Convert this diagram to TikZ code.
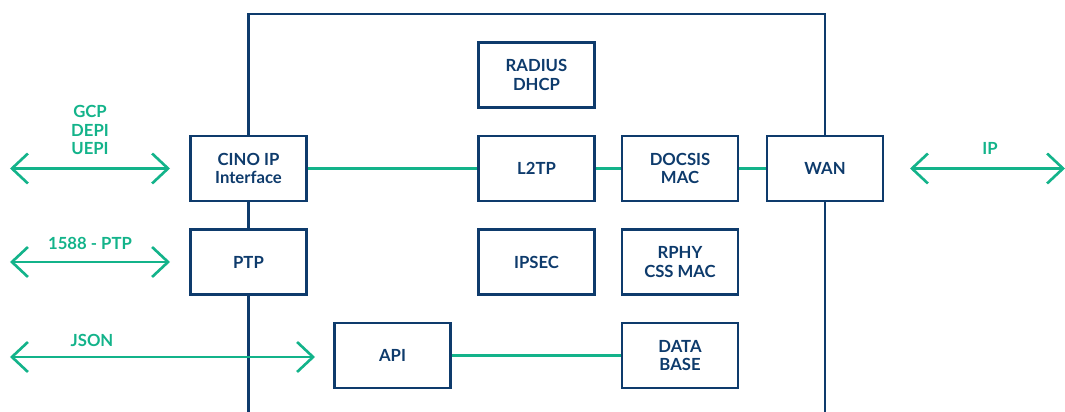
\documentclass[tikz,border=0pt]{standalone}
\usepackage{fontspec}
\setmainfont{Lato}
\usepackage{tikz}
\usetikzlibrary{arrows.meta}

\definecolor{navy}{HTML}{0E3B6C}
\definecolor{cgreen}{HTML}{13B38A}

\begin{document}
\begin{tikzpicture}[box/.style={draw=navy, line width=1.6pt, fill=white, minimum width=2.32cm, minimum height=1.3cm, align=center, text=navy, font=\bfseries\fontsize{9.5}{10.5}\selectfont},
			link/.style={cgreen, line width=1.5pt},
			io/.style={link, {Straight Barb[length=3.2mm,width=6mm]}-{Straight Barb[length=3.2mm,width=6mm]}},
			tag/.style={text=cgreen, align=center, font=\bfseries\fontsize{9.5}{10.5}\selectfont}]
			\useasboundingbox (0,0) rectangle (21.3,8.24);
			
			% frame of the core
			\draw[navy, line width=1.6pt] (4.97,0) -- (4.97,7.96) -- (16.5,7.96) -- (16.5,0);
			
			\begin{scope}[every node/.style={box}]
				\node (radius) at (10.73,6.74) {RADIUS\\DHCP};
				\node (cino) at (4.97,4.87) {CINO IP\\Interface};
				\node (l2tp) at (10.73,4.87) {L2TP};
				\node (docsis) at (13.6,4.87) {DOCSIS\\MAC};
				\node (wan) at (16.5,4.87) {WAN};
				\node (ptp) at (4.97,3.0) {PTP};
				\node (ipsec) at (10.73,3.0) {IPSEC};
				\node (rphy) at (13.6,3.0) {RPHY\\CSS MAC};
				\node (api) at (7.85,1.13) {API};
				\node (db) at (13.6,1.13) {DATA\\BASE};
			\end{scope}
			
			\coordinate (gcpL) at (0.2,4.87);
			\coordinate (gcpR) at (3.4,4.87);
			\coordinate (ptpL) at (0.2,3.0);
			\coordinate (ptpR) at (3.4,3.0);
			\coordinate (jsonL) at (0.2,1.1);
			\coordinate (jsonR) at (6.3,1.1);
			\coordinate (ipL) at (18.2,4.87);
			\coordinate (ipR) at (21.3,4.87);
			
			\node[tag] (gcp) at (1.8,5.64) {GCP\\DEPI\\UEPI};
			\node[tag] (sync) at (1.8,3.38) {1588 - PTP};
			\node[tag] (json) at (1.84,1.44) {JSON};
			\node[tag] (ip) at (19.8,5.28) {IP};
			
			\draw[link] (cino) edge (l2tp)
			(l2tp) edge (docsis)
			(docsis) edge (wan)
			(api) edge (db);
			\draw[io] (gcpL) -- (gcpR);
			\draw[io] (ptpL) -- (ptpR);
			\draw[io] (jsonL) -- (jsonR);
			\draw[io] (ipL) -- (ipR);
		\end{tikzpicture}
\end{document}
